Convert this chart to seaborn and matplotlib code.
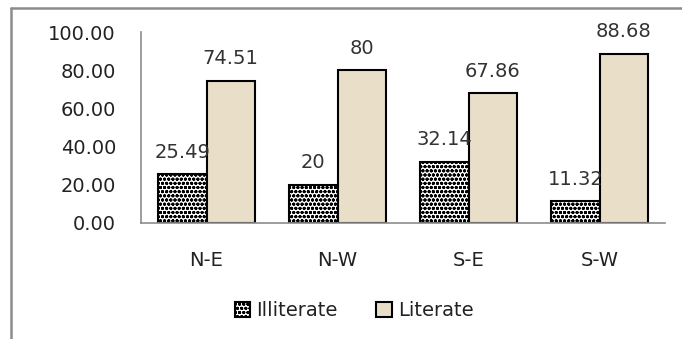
import matplotlib
matplotlib.use("Agg")
import matplotlib.pyplot as plt
import seaborn as sns
import pandas as pd
from matplotlib.patches import Patch
from matplotlib.lines import Line2D

regions = ["N-E", "N-W", "S-E", "S-W"]
illiterate = [25.49, 20, 32.14, 11.32]
literate = [74.51, 80, 67.86, 88.68]
groups = ["Illiterate", "Literate"]
yticks = [0, 20, 40, 60, 80, 100]

df = pd.DataFrame({
    "Region": regions * 2,
    "Value": illiterate + literate,
    "Group": [groups[0]] * 4 + [groups[1]] * 4,
})

sns.set_style("white")
plt.rcParams["font.family"] = ["DejaVu Sans"]
plt.rcParams["hatch.linewidth"] = 1.0

fig = plt.figure(figsize=(6.82, 3.39), dpi=100)
ax = fig.add_axes([141 / 682, 1 - 223 / 339, 524 / 682, 191 / 339])

lit_color = "#E9DEC8"
sns.barplot(data=df, x="Region", y="Value", hue="Group", hue_order=groups,
            palette={"Illiterate": "white", "Literate": lit_color},
            width=0.74, ax=ax, legend=False, edgecolor="black", linewidth=1.5,
            saturation=1)

for bar in ax.containers[0]:
    bar.set_hatch("oooo")
    bar.set_facecolor("white")
    bar.set_edgecolor("black")

for cont in ax.containers:
    labels = ["{:g}".format(b.get_height()) for b in cont]
    ax.bar_label(cont, labels=labels, padding=9, fontsize=14, color="#333333")

ax.set_ylim(0, 100)
ax.set_yticks(yticks)
ax.set_yticklabels(["{:.2f}".format(v) for v in yticks])
ax.set_xlabel("")
ax.set_ylabel("")
ax.tick_params(axis="y", length=0, pad=18, labelsize=14, labelcolor="#222222")
ax.tick_params(axis="x", length=0, pad=20, labelsize=14, labelcolor="#222222")
for s in ["top", "right"]:
    ax.spines[s].set_visible(False)
ax.spines["left"].set_color("#8c8c8c")
ax.spines["bottom"].set_color("#8c8c8c")
ax.spines["left"].set_linewidth(1.2)
ax.spines["bottom"].set_linewidth(1.2)

handles = [Patch(facecolor="white", edgecolor="black", hatch="oooo", linewidth=1.5),
           Patch(facecolor=lit_color, edgecolor="black", linewidth=1.5)]
fig.legend(handles, groups, loc="center", bbox_to_anchor=(354 / 682, 1 - 311 / 339),
           ncol=2, frameon=False, fontsize=14, handlelength=0.8, handleheight=0.8,
           handletextpad=0.3, columnspacing=2.0, labelcolor="#222222")

# outer chart border (left and top visible)
fig.add_artist(Line2D([11 / 682, 11 / 682], [0, 1 - 8 / 339], transform=fig.transFigure,
                      color="#8c8c8c", linewidth=1.8))
fig.add_artist(Line2D([11 / 682, 1], [1 - 8 / 339, 1 - 8 / 339], transform=fig.transFigure,
                      color="#8c8c8c", linewidth=1.8))

fig.savefig("out.png", dpi=100)
